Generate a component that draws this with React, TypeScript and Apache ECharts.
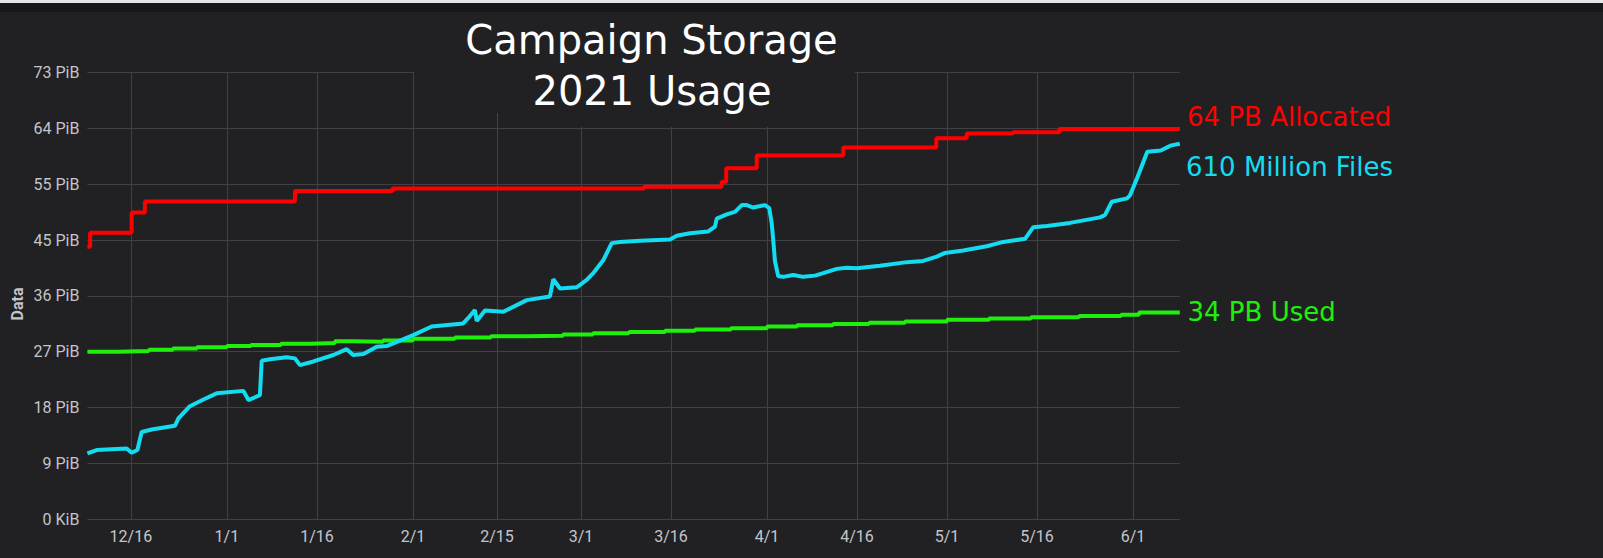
import React, { useEffect, useRef } from "react";
import * as echarts from "echarts";

// ---- axis ticks ----
const yTickLabels = ["0 KiB", "9 PiB", "18 PiB", "27 PiB", "36 PiB", "45 PiB", "55 PiB", "64 PiB", "73 PiB"];
const yStep = 9.1;
const xTickDates = [
  "2020-12-16T00:00", "2021-01-01T00:00", "2021-01-16T00:00", "2021-02-01T00:00",
  "2021-02-15T00:00", "2021-03-01T00:00", "2021-03-16T00:00", "2021-04-01T00:00",
  "2021-04-16T00:00", "2021-05-01T00:00", "2021-05-16T00:00", "2021-06-01T00:00",
];
const xStart = "2020-12-08T18:00";
const xEnd = "2021-06-08T19:00";

// ---- series (values in PiB on the shared axis) ----
const allocated: [string, number][] = [
  ["2020-12-08T18:00", 44.4],
  ["2020-12-09T05:00", 46.7],
  ["2020-12-16T03:00", 50.0],
  ["2020-12-18T08:00", 51.8],
  ["2021-01-12T08:00", 53.5],
  ["2021-01-28T14:00", 53.9],
  ["2021-03-11T12:00", 54.2],
  ["2021-03-24T11:00", 55.0],
  ["2021-03-25T05:00", 57.2],
  ["2021-03-30T07:00", 59.3],
  ["2021-04-13T17:00", 60.6],
  ["2021-04-29T05:00", 62.1],
  ["2021-05-04T07:00", 62.9],
  ["2021-05-12T00:00", 63.1],
  ["2021-05-19T17:00", 63.6],
  ["2021-06-08T19:00", 63.6],
];

const used: [string, number][] = [
  ["2020-12-08T18:00", 27.3],
  ["2020-12-14T00:00", 27.4],
  ["2020-12-19T00:00", 27.6],
  ["2020-12-23T00:00", 27.8],
  ["2020-12-27T00:00", 28.0],
  ["2021-01-01T00:00", 28.2],
  ["2021-01-05T00:00", 28.4],
  ["2021-01-10T00:00", 28.6],
  ["2021-01-15T00:00", 28.7],
  ["2021-01-19T00:00", 29.0],
  ["2021-01-22T00:00", 28.9],
  ["2021-01-27T00:00", 29.1],
  ["2021-02-01T00:00", 29.4],
  ["2021-02-08T00:00", 29.6],
  ["2021-02-14T00:00", 29.8],
  ["2021-02-20T00:00", 29.9],
  ["2021-02-26T00:00", 30.1],
  ["2021-03-03T00:00", 30.3],
  ["2021-03-09T00:00", 30.5],
  ["2021-03-15T00:00", 30.7],
  ["2021-03-20T00:00", 30.9],
  ["2021-03-26T00:00", 31.1],
  ["2021-04-01T00:00", 31.4],
  ["2021-04-06T00:00", 31.6],
  ["2021-04-12T00:00", 31.8],
  ["2021-04-18T00:00", 32.0],
  ["2021-04-24T00:00", 32.2],
  ["2021-05-01T00:00", 32.5],
  ["2021-05-08T00:00", 32.7],
  ["2021-05-15T00:00", 32.9],
  ["2021-05-23T00:00", 33.1],
  ["2021-05-30T00:00", 33.3],
  ["2021-06-02T00:00", 33.7],
  ["2021-06-08T19:00", 33.7],
];

const files: [string, number][] = [
  ["2020-12-08T18:00", 10.7],
  ["2020-12-10T07:00", 11.25],
  ["2020-12-15T07:00", 11.5],
  ["2020-12-16T03:00", 10.8],
  ["2020-12-17T02:00", 11.25],
  ["2020-12-17T19:00", 14.2],
  ["2020-12-19T11:00", 14.6],
  ["2020-12-23T08:00", 15.2],
  ["2020-12-23T22:00", 16.4],
  ["2020-12-25T20:00", 18.4],
  ["2020-12-28T02:00", 19.5],
  ["2020-12-30T07:00", 20.5],
  ["2021-01-03T18:00", 20.9],
  ["2021-01-04T14:00", 19.4],
  ["2021-01-06T12:00", 20.2],
  ["2021-01-06T19:00", 25.8],
  ["2021-01-08T04:00", 26.05],
  ["2021-01-10T23:00", 26.4],
  ["2021-01-12T08:00", 26.2],
  ["2021-01-13T04:00", 25.1],
  ["2021-01-15T10:00", 25.7],
  ["2021-01-18T18:00", 26.75],
  ["2021-01-20T23:00", 27.7],
  ["2021-01-22T01:00", 26.75],
  ["2021-01-23T18:00", 26.9],
  ["2021-01-25T23:00", 28.1],
  ["2021-01-27T15:00", 28.2],
  ["2021-02-01T01:00", 30.0],
  ["2021-02-04T03:00", 31.4],
  ["2021-02-09T09:00", 31.9],
  ["2021-02-10T12:00", 33.1],
  ["2021-02-11T08:00", 34.1],
  ["2021-02-11T15:00", 32.3],
  ["2021-02-13T00:00", 34.0],
  ["2021-02-16T01:00", 33.8],
  ["2021-02-19T23:00", 35.7],
  ["2021-02-23T20:00", 36.3],
  ["2021-02-24T09:00", 39.1],
  ["2021-02-25T12:00", 37.6],
  ["2021-02-28T07:00", 37.8],
  ["2021-03-01T23:00", 39.0],
  ["2021-03-03T01:00", 40.1],
  ["2021-03-04T17:00", 42.2],
  ["2021-03-06T03:00", 45.0],
  ["2021-03-07T12:00", 45.2],
  ["2021-03-10T20:00", 45.4],
  ["2021-03-15T20:00", 45.6],
  ["2021-03-16T23:00", 46.2],
  ["2021-03-19T04:00", 46.6],
  ["2021-03-22T05:00", 46.9],
  ["2021-03-23T08:00", 47.7],
  ["2021-03-23T15:00", 49.0],
  ["2021-03-25T07:00", 49.7],
  ["2021-03-26T16:00", 50.1],
  ["2021-03-27T19:00", 51.2],
  ["2021-03-28T15:00", 51.2],
  ["2021-03-29T17:00", 50.8],
  ["2021-03-31T16:00", 51.2],
  ["2021-04-01T09:00", 50.7],
  ["2021-04-01T19:00", 48.2],
  ["2021-04-02T01:00", 45.5],
  ["2021-04-02T08:00", 42.0],
  ["2021-04-02T21:00", 39.6],
  ["2021-04-03T17:00", 39.5],
  ["2021-04-05T09:00", 39.8],
  ["2021-04-07T01:00", 39.5],
  ["2021-04-09T00:00", 39.7],
  ["2021-04-10T09:00", 40.1],
  ["2021-04-12T15:00", 40.8],
  ["2021-04-14T07:00", 41.0],
  ["2021-04-15T23:00", 40.9],
  ["2021-04-19T20:00", 41.3],
  ["2021-04-24T07:00", 41.9],
  ["2021-04-27T01:00", 42.1],
  ["2021-04-29T07:00", 42.8],
  ["2021-04-30T16:00", 43.4],
  ["2021-05-03T17:00", 43.8],
  ["2021-05-07T15:00", 44.5],
  ["2021-05-10T09:00", 45.2],
  ["2021-05-14T00:00", 45.7],
  ["2021-05-15T09:00", 47.6],
  ["2021-05-17T15:00", 47.8],
  ["2021-05-21T12:00", 48.3],
  ["2021-05-26T12:00", 49.2],
  ["2021-05-27T08:00", 49.6],
  ["2021-05-28T11:00", 51.75],
  ["2021-05-31T00:00", 52.3],
  ["2021-05-31T12:00", 52.8],
  ["2021-06-01T18:00", 55.8],
  ["2021-06-03T09:00", 59.9],
  ["2021-06-05T15:00", 60.1],
  ["2021-06-07T05:00", 60.9],
  ["2021-06-08T19:00", 61.2],
];

const titleLines = ["Campaign Storage", "2021 Usage"];
const annotations = ["64 PB Allocated", "610 Million Files", "34 PB Used"];
const yAxisName = "Data";

const ts = (s: string) => new Date(s).getTime();

const BG = "#212124";
const GRID = "#3f4146";
const LABEL = "#c4c5c9";
const RED = "#ff0000";
const CYAN = "#14dcf0";
const GREEN = "#1ef00c";

export default function App() {
  const ref = useRef<HTMLDivElement>(null);

  useEffect(() => {
    document.body.style.margin = "0";
    document.body.style.background = BG;
    if (!ref.current) return;
    const chart = echarts.init(ref.current, null, { renderer: "svg" });
    const xTicks = xTickDates.map(ts);

    const option: any = {
      animation: false,
      backgroundColor: BG,
      grid: {
        left: 87.4,
        right: 423.2,
        top: 72.7,
        bottom: 39,
        containLabel: false,
        outerBoundsMode: "none",
      },
      xAxis: {
        type: "value",
        min: ts(xStart),
        max: ts(xEnd),
        axisLine: { show: false },
        axisTick: { show: false, customValues: xTicks },
        axisLabel: {
          customValues: xTicks,
          color: LABEL,
          fontSize: 16,
          fontFamily: "Roboto",
          margin: 9,
          formatter: (v: number) => {
            const d = new Date(v);
            return `${d.getMonth() + 1}/${d.getDate()}`;
          },
        },
        splitLine: { show: true, lineStyle: { color: GRID, width: 1 } },
      },
      yAxis: {
        type: "value",
        min: 0,
        max: yStep * 8,
        interval: yStep,
        axisLine: { show: false },
        axisTick: { show: false },
        axisLabel: {
          color: LABEL,
          fontSize: 16,
          fontFamily: "Roboto",
          margin: 8,
          formatter: (v: number) => yTickLabels[Math.round(v / yStep)] ?? "",
        },
        splitLine: { show: true, lineStyle: { color: GRID, width: 1 } },
      },
      series: [
        {
          name: annotations[1],
          type: "line",
          showSymbol: false,
          symbol: "none",
          lineStyle: { color: CYAN, width: 4 },
          data: files.map(([d, v]) => [ts(d), v]),
          z: 3,
        },
        {
          name: annotations[2],
          type: "line",
          step: "end",
          showSymbol: false,
          symbol: "none",
          lineStyle: { color: GREEN, width: 4 },
          data: used.map(([d, v]) => [ts(d), v]),
          z: 2,
        },
        {
          name: annotations[0],
          type: "line",
          step: "end",
          showSymbol: false,
          symbol: "none",
          lineStyle: { color: RED, width: 4 },
          data: allocated.map(([d, v]) => [ts(d), v]),
          z: 4,
        },
      ],
      graphic: [
        { type: "rect", z: 50, shape: { x: 0, y: 0, width: 1603, height: 3 }, style: { fill: "#e6e6e6" } },
        { type: "rect", z: 50, shape: { x: 0, y: 3, width: 1603, height: 9 }, style: { fill: "#18181a" } },
        { type: "rect", z: 50, shape: { x: 414, y: 12, width: 441, height: 101 }, style: { fill: BG } },
        { type: "rect", z: 50, shape: { x: 540, y: 100, width: 260, height: 27 }, style: { fill: BG } },
        {
          type: "text", z: 60, x: 651.5, y: 40,
          style: { text: titleLines[0], fill: "#ffffff", fontSize: 40, fontFamily: "DejaVu Sans", align: "center", verticalAlign: "middle" },
        },
        {
          type: "text", z: 60, x: 652, y: 91.3,
          style: { text: titleLines[1], fill: "#ffffff", fontSize: 40, fontFamily: "DejaVu Sans", align: "center", verticalAlign: "middle" },
        },
        {
          type: "text", z: 60, x: 1187, y: 116.8,
          style: { text: annotations[0], fill: RED, fontSize: 26, fontFamily: "DejaVu Sans", align: "left", verticalAlign: "middle" },
        },
        {
          type: "text", z: 60, x: 1186, y: 166.5,
          style: { text: annotations[1], fill: CYAN, fontSize: 26, fontFamily: "DejaVu Sans", align: "left", verticalAlign: "middle" },
        },
        {
          type: "text", z: 60, x: 1187.5, y: 312,
          style: { text: annotations[2], fill: GREEN, fontSize: 26, fontFamily: "DejaVu Sans", align: "left", verticalAlign: "middle" },
        },
        {
          type: "text", z: 60, x: 17, y: 304, rotation: Math.PI / 2,
          style: { text: yAxisName, fill: LABEL, fontSize: 16, fontWeight: "bold", fontFamily: "Roboto", align: "center", verticalAlign: "middle" },
        },
      ],
    };

    chart.setOption(option);
    return () => chart.dispose();
  }, []);

  return <div ref={ref} style={{ width: 1603, height: 558, background: BG }} />;
}
